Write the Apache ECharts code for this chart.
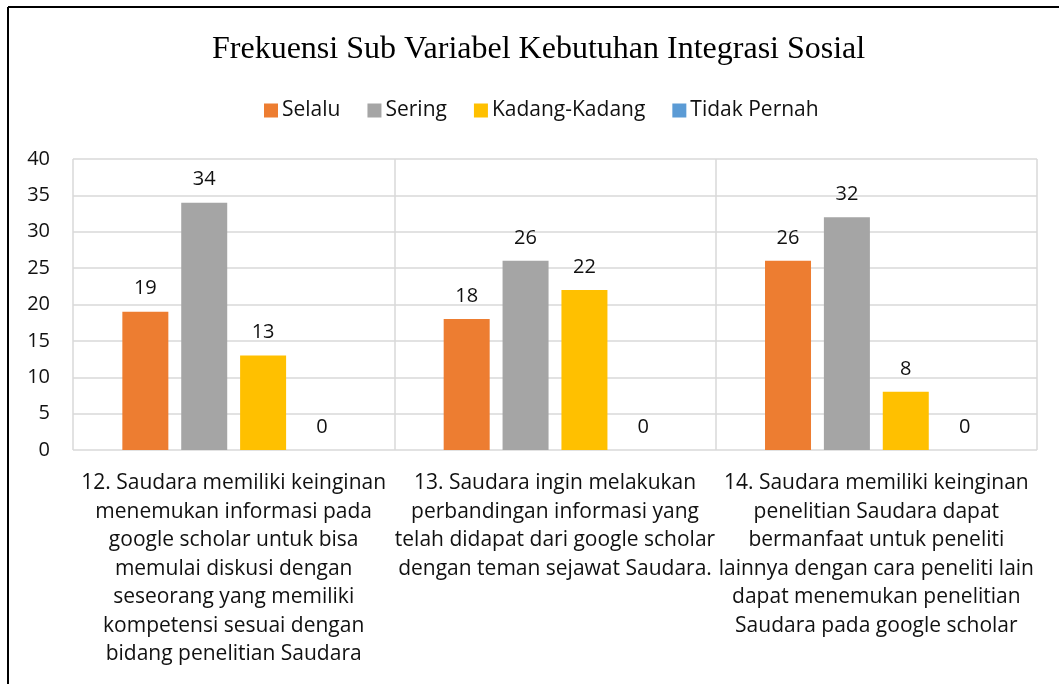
<!DOCTYPE html>
<html>
<head>
<meta charset="utf-8">
<script src="https://cdn.jsdelivr.net/npm/echarts@6/dist/echarts.min.js"></script>
<style>
html,body{margin:0;padding:0;background:#fff;}
#chart{width:1059px;height:684px;}
</style>
</head>
<body>
<div id="chart"></div>
<script>
const titleText = 'Frekuensi Sub Variabel Kebutuhan Integrasi Sosial';
const categories = [
  '12. Saudara memiliki keinginan\nmenemukan informasi pada\ngoogle scholar untuk bisa\nmemulai diskusi dengan\nseseorang yang memiliki\nkompetensi sesuai dengan\nbidang penelitian Saudara',
  '13. Saudara ingin melakukan\nperbandingan informasi yang\ntelah didapat dari google scholar\ndengan teman sejawat Saudara.',
  '14. Saudara memiliki keinginan\npenelitian Saudara dapat\nbermanfaat untuk peneliti\nlainnya dengan cara peneliti lain\ndapat menemukan penelitian\nSaudara pada google scholar'
];
const seriesNames = ['Selalu', 'Sering', 'Kadang-Kadang', 'Tidak Pernah'];
const selalu = [19, 18, 26];
const sering = [34, 26, 32];
const kadang = [13, 22, 8];
const tidakPernah = [0, 0, 0];
const colors = ['#ED7D31', '#A5A5A5', '#FFC000', '#5B9BD5'];
const yTicks = [0, 5, 10, 15, 20, 25, 30, 35, 40];

const font = '"Open Sans", Lato, sans-serif';
const chart = echarts.init(document.getElementById('chart'));
const dataSets = [selalu, sering, kadang, tidakPernah];
chart.setOption({
  animation: false,
  backgroundColor: '#fff',
  color: colors,
  title: {
    text: titleText,
    left: 207,
    top: 29,
    textStyle: {fontFamily: '"Liberation Serif", "Times New Roman", serif', fontSize: 32, fontWeight: 'normal', color: '#000'}
  },
  legend: {
    top: 95,
    left: 259,
    itemWidth: 14,
    itemHeight: 14,
    itemGap: 27,
    icon: 'rect',
    textStyle: {fontFamily: font, fontSize: 21, color: '#111', padding: [0, 0, 0, -1]},
    data: seriesNames
  },
  grid: {left: 73, right: 22, top: 159, bottom: 234, containLabel: false},
  xAxis: {
    type: 'category',
    data: categories,
    axisLine: {show: false},
    axisTick: {show: false},
    splitLine: {show: true, lineStyle: {color: '#D9D9D9', width: 1.5}},
    axisLabel: {
      interval: 0,
      margin: 19,
      fontFamily: font,
      fontSize: 21,
      lineHeight: 28.5,
      color: '#111',
      align: 'center'
    }
  },
  yAxis: {
    type: 'value',
    min: yTicks[0],
    max: yTicks[yTicks.length - 1],
    interval: 5,
    axisLine: {show: false},
    axisTick: {show: false},
    splitLine: {lineStyle: {color: '#D9D9D9', width: 1.5}},
    axisLabel: {margin: 23, fontFamily: font, fontSize: 20, color: '#111'}
  },
  graphic: [
    {type: 'line', shape: {x1: 8, y1: 7, x2: 1059, y2: 7}, style: {stroke: '#000', lineWidth: 2}},
    {type: 'line', shape: {x1: 8, y1: 7, x2: 8, y2: 684}, style: {stroke: '#000', lineWidth: 2}}
  ],
  series: seriesNames.map((name, i) => ({
    name: name,
    type: 'bar',
    data: dataSets[i],
    barWidth: 46,
    barGap: '28%',
    label: {
      show: true,
      position: 'top',
      distance: 13,
      fontFamily: font,
      fontSize: 20,
      color: '#111'
    }
  }))
});
</script>
</body>
</html>
